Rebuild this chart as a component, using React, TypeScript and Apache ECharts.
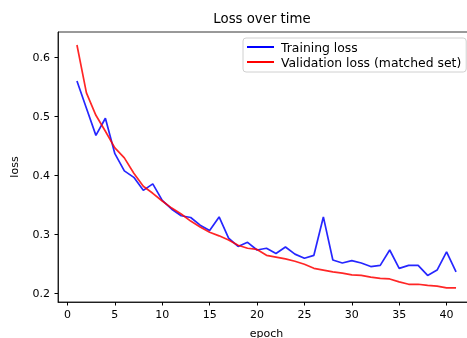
import React, { useEffect, useRef } from "react";
import * as echarts from "echarts";

const epochs = [1,2,3,4,5,6,7,8,9,10,11,12,13,14,15,16,17,18,19,20,21,22,23,24,25,26,27,28,29,30,31,32,33,34,35,36,37,38,39,40,41];
const trainingLoss = [0.560,0.514,0.468,0.497,0.437,0.408,0.397,0.375,0.386,0.358,0.343,0.332,0.329,0.316,0.307,0.330,0.294,0.280,0.287,0.274,0.277,0.268,0.279,0.267,0.260,0.265,0.330,0.257,0.252,0.256,0.252,0.246,0.248,0.274,0.243,0.248,0.248,0.231,0.240,0.271,0.237];
const validationLoss = [0.621,0.540,0.502,0.475,0.447,0.430,0.404,0.382,0.370,0.357,0.345,0.335,0.323,0.313,0.304,0.298,0.291,0.282,0.277,0.275,0.265,0.262,0.259,0.255,0.250,0.243,0.240,0.237,0.235,0.232,0.231,0.228,0.226,0.225,0.220,0.216,0.216,0.214,0.213,0.210,0.210];
const xTicks = [0,5,10,15,20,25,30,35,40];
const yTicks = [0.2,0.3,0.4,0.5,0.6];

export default function App() {
  const ref = useRef<HTMLDivElement>(null);
  useEffect(() => {
    if (!ref.current) return;
    const chart = echarts.init(ref.current, null, { renderer: "svg" });
    const font = "DejaVu Sans";
    chart.setOption({
      animation: false,
      textStyle: { fontFamily: font },
      title: {
        text: "Loss over time",
        left: 257, top: 7, textAlign: "center",
        textStyle: { fontFamily: font, fontSize: 13.3, fontWeight: "normal", color: "#000" },
      },
      legend: {
        orient: "vertical",
        left: 243, top: 38,
        itemWidth: 27, itemHeight: 2, itemGap: 3,
        backgroundColor: "#fff",
        borderColor: "#d0d0d0", borderWidth: 1, borderRadius: 3,
        padding: [3, 5, 4, 4],
        textStyle: { fontFamily: font, fontSize: 12.4, color: "#000", padding: [0, 0, 0, 2] },
        data: [
          { name: "Training loss", icon: "rect" },
          { name: "Validation loss (matched set)", icon: "rect" },
        ],
      },
      grid: {
        left: 58, top: 32, right: 5, bottom: 36,
        outerBoundsMode: "none", containLabel: false,
        show: true, borderColor: "#000", borderWidth: 0.8, backgroundColor: "transparent",
      },
      xAxis: {
        type: "value", min: -1, max: 43,
        name: "epoch", nameLocation: "middle", nameGap: 26,
        nameTextStyle: { fontFamily: font, fontSize: 11, color: "#000" },
        axisLine: { show: true, onZero: false, lineStyle: { color: "#000", width: 0.8 } },
        axisTick: { show: true, customValues: xTicks, length: 3.5, inside: false, lineStyle: { color: "#000" } },
        axisLabel: { customValues: xTicks, fontFamily: font, fontSize: 11, color: "#000", margin: 7 },
        splitLine: { show: false },
      },
      yAxis: {
        type: "value", min: 0.186, max: 0.643,
        name: "loss", nameLocation: "middle", nameGap: 38, nameRotate: 90,
        nameTextStyle: { fontFamily: font, fontSize: 11, color: "#000" },
        axisLine: { show: true, onZero: false, lineStyle: { color: "#000", width: 0.8 } },
        axisTick: { show: true, customValues: yTicks, length: 3.5, lineStyle: { color: "#000" } },
        axisLabel: {
          customValues: yTicks, fontFamily: font, fontSize: 11, color: "#000", margin: 8,
          formatter: (v: number) => v.toFixed(1),
        },
        splitLine: { show: false },
      },
      series: [
        {
          name: "Training loss", type: "line", showSymbol: false,
          data: epochs.map((e, i) => [e, trainingLoss[i]]),
          lineStyle: { color: "#0000ff", width: 1.7, opacity: 0.85 },
          itemStyle: { color: "#0000ff" },
        },
        {
          name: "Validation loss (matched set)", type: "line", showSymbol: false,
          data: epochs.map((e, i) => [e, validationLoss[i]]),
          lineStyle: { color: "#ff0000", width: 1.7, opacity: 0.85 },
          itemStyle: { color: "#ff0000" },
        },
      ],
    });
    return () => chart.dispose();
  }, []);
  return <div ref={ref} style={{ position: "fixed", left: 0, top: 0, width: 480, height: 338 }} />;
}
